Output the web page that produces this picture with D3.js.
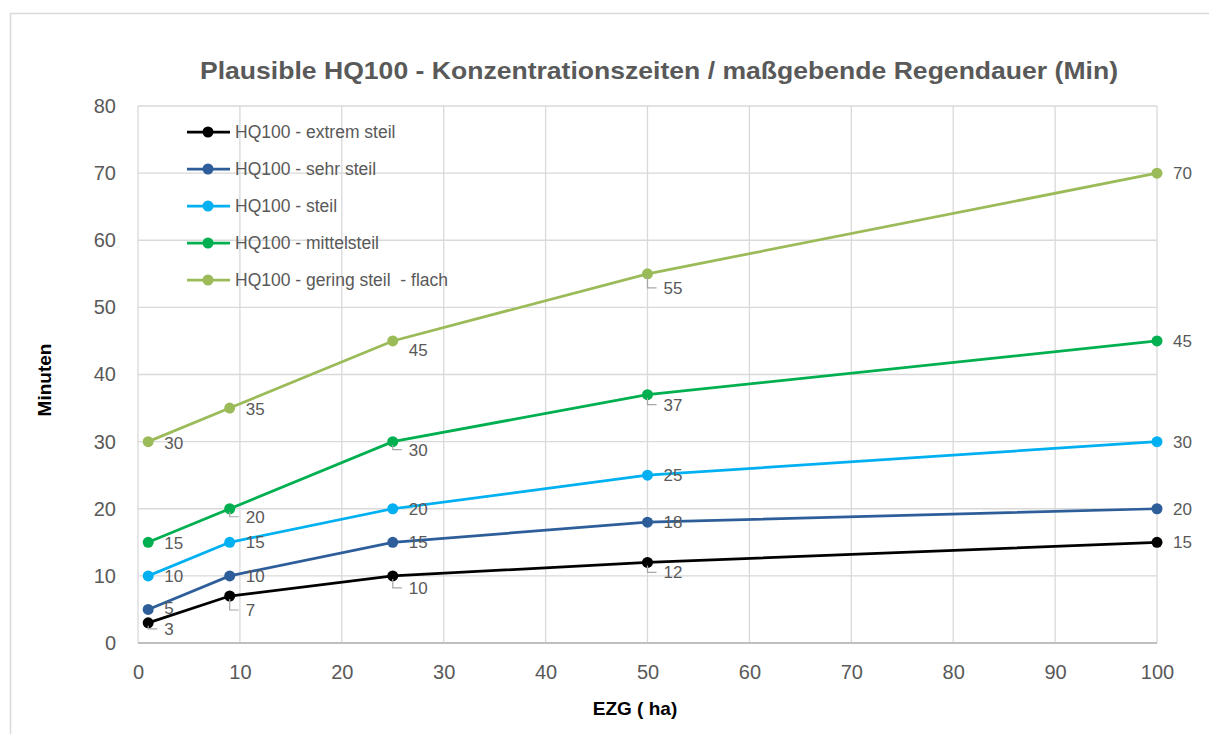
<!DOCTYPE html>
<html><head><meta charset="utf-8">
<script src="https://cdn.jsdelivr.net/npm/d3@7"></script>
<style>html,body{margin:0;padding:0;background:#fff;}svg{display:block;}</style>
</head><body>
<svg id="c" width="1209" height="734"></svg>
<script>
const title = "Plausible HQ100 - Konzentrationszeiten / maßgebende Regendauer (Min)";
const xTitle = "EZG ( ha)";
const yTitle = "Minuten";
const xValues = [1, 9, 25, 50, 100];
const xTicks = [0,10,20,30,40,50,60,70,80,90,100];
const yTicks = [0,10,20,30,40,50,60,70,80];
const seriesNames = ["HQ100 - extrem steil","HQ100 - sehr steil","HQ100 - steil","HQ100 - mittelsteil","HQ100 - gering steil  - flach"];
const extremSteil = [3, 7, 10, 12, 15];
const sehrSteil = [5, 10, 15, 18, 20];
const steil = [10, 15, 20, 25, 30];
const mittelsteil = [15, 20, 30, 37, 45];
const geringSteil = [30, 35, 45, 55, 70];
const seriesValues = [extremSteil, sehrSteil, steil, mittelsteil, geringSteil];
const colors = ["#000000","#2E5E99","#00B0F0","#00B050","#9BBB59"];
// label placement (pixel offsets below point, and whether a leader line is drawn)
const labelDy = [[6,14,12,10,0],[-1,0,0,0,0],[0,0,0,0,0],[1,8,8,10,0],[1,1,9,14,0]];
const labelLeader = [[true,true,true,true,false],[false,false,false,false,false],[false,false,false,false,false],[false,true,true,true,false],[false,false,false,true,false]];

const svg = d3.select("#c");
const font = "'Liberation Sans', Arial, sans-serif";
const grey = "#595959";

svg.append("rect").attr("x",10.5).attr("y",13.5).attr("width",1400).attr("height",900)
  .attr("fill","#fff").attr("stroke","#d9d9d9").attr("stroke-width",1.5);

const x = d3.scaleLinear().domain([0,100]).range([138,1157]);
const y = d3.scaleLinear().domain([0,80]).range([643,106]);

// grid
svg.append("g").selectAll("line").data(xTicks).join("line")
  .attr("x1",d=>x(d)).attr("x2",d=>x(d)).attr("y1",y(80)).attr("y2",y(0))
  .attr("stroke","#d9d9d9").attr("stroke-width",1.3);
svg.append("g").selectAll("line").data(yTicks).join("line")
  .attr("x1",x(0)).attr("x2",x(100)).attr("y1",d=>y(d)).attr("y2",d=>y(d))
  .attr("stroke","#d9d9d9").attr("stroke-width",1.3);
svg.append("line").attr("x1",x(0)).attr("x2",x(100)).attr("y1",y(0)).attr("y2",y(0))
  .attr("stroke","#bfbfbf").attr("stroke-width",2);

// axes
const xAxis = svg.append("g").attr("transform",`translate(0,${y(0)})`)
  .call(d3.axisBottom(x).tickValues(xTicks).tickSize(0).tickPadding(22));
const yAxis = svg.append("g").attr("transform",`translate(${x(0)-16},0)`)
  .call(d3.axisLeft(y).tickValues(yTicks).tickSize(0).tickPadding(6));
[xAxis,yAxis].forEach(a=>{
  a.select(".domain").remove();
  a.selectAll("text").attr("font-family",font).attr("font-size",20).attr("fill",grey);
});

// title
svg.append("text").attr("x",200).attr("y",79)
  .attr("textLength",918).attr("lengthAdjust","spacingAndGlyphs")
  .attr("font-family",font).attr("font-weight","bold").attr("font-size",24).attr("fill",grey).text(title);
svg.append("text").attr("x",635).attr("y",715).attr("text-anchor","middle")
  .attr("font-family",font).attr("font-weight","bold").attr("font-size",19).attr("fill","#000").text(xTitle);
svg.append("text").attr("transform","translate(51,380) rotate(-90)").attr("text-anchor","middle")
  .attr("font-family",font).attr("font-weight","bold").attr("font-size",19).attr("fill","#000").text(yTitle);

// series
const line = d3.line().x((d,i)=>x(xValues[i])).y(d=>y(d));
seriesValues.forEach((vals,s)=>{
  const g = svg.append("g");
  g.append("path").attr("d",line(vals)).attr("fill","none").attr("stroke",colors[s]).attr("stroke-width",2.75);
  g.selectAll("circle").data(vals).join("circle")
    .attr("cx",(d,i)=>x(xValues[i])).attr("cy",d=>y(d)).attr("r",5.5).attr("fill",colors[s]);
  vals.forEach((v,i)=>{
    const px = x(xValues[i]), py = y(v);
    const dy = labelDy[s][i];
    if (labelLeader[s][i]) {
      g.append("path").attr("d",`M${px},${py+3}V${py+dy}H${px+9}`).attr("fill","none")
        .attr("stroke","#a6a6a6").attr("stroke-width",1.2);
    }
    g.append("text").attr("x",px+16).attr("y",py+dy+6).attr("font-family",font).attr("font-size",17)
      .attr("fill",grey).text(v);
  });
});

// legend
const lg = svg.append("g");
seriesNames.forEach((n,s)=>{
  const ly = 132 + s*37;
  lg.append("line").attr("x1",187).attr("x2",230).attr("y1",ly).attr("y2",ly).attr("stroke",colors[s]).attr("stroke-width",2.75);
  lg.append("circle").attr("cx",208).attr("cy",ly).attr("r",5.5).attr("fill",colors[s]);
  lg.append("text").attr("x",235).attr("y",ly+6).attr("font-family",font).attr("font-size",17.5)
    .attr("fill",grey).style("white-space","pre").text(n);
});
</script>
</body></html>
